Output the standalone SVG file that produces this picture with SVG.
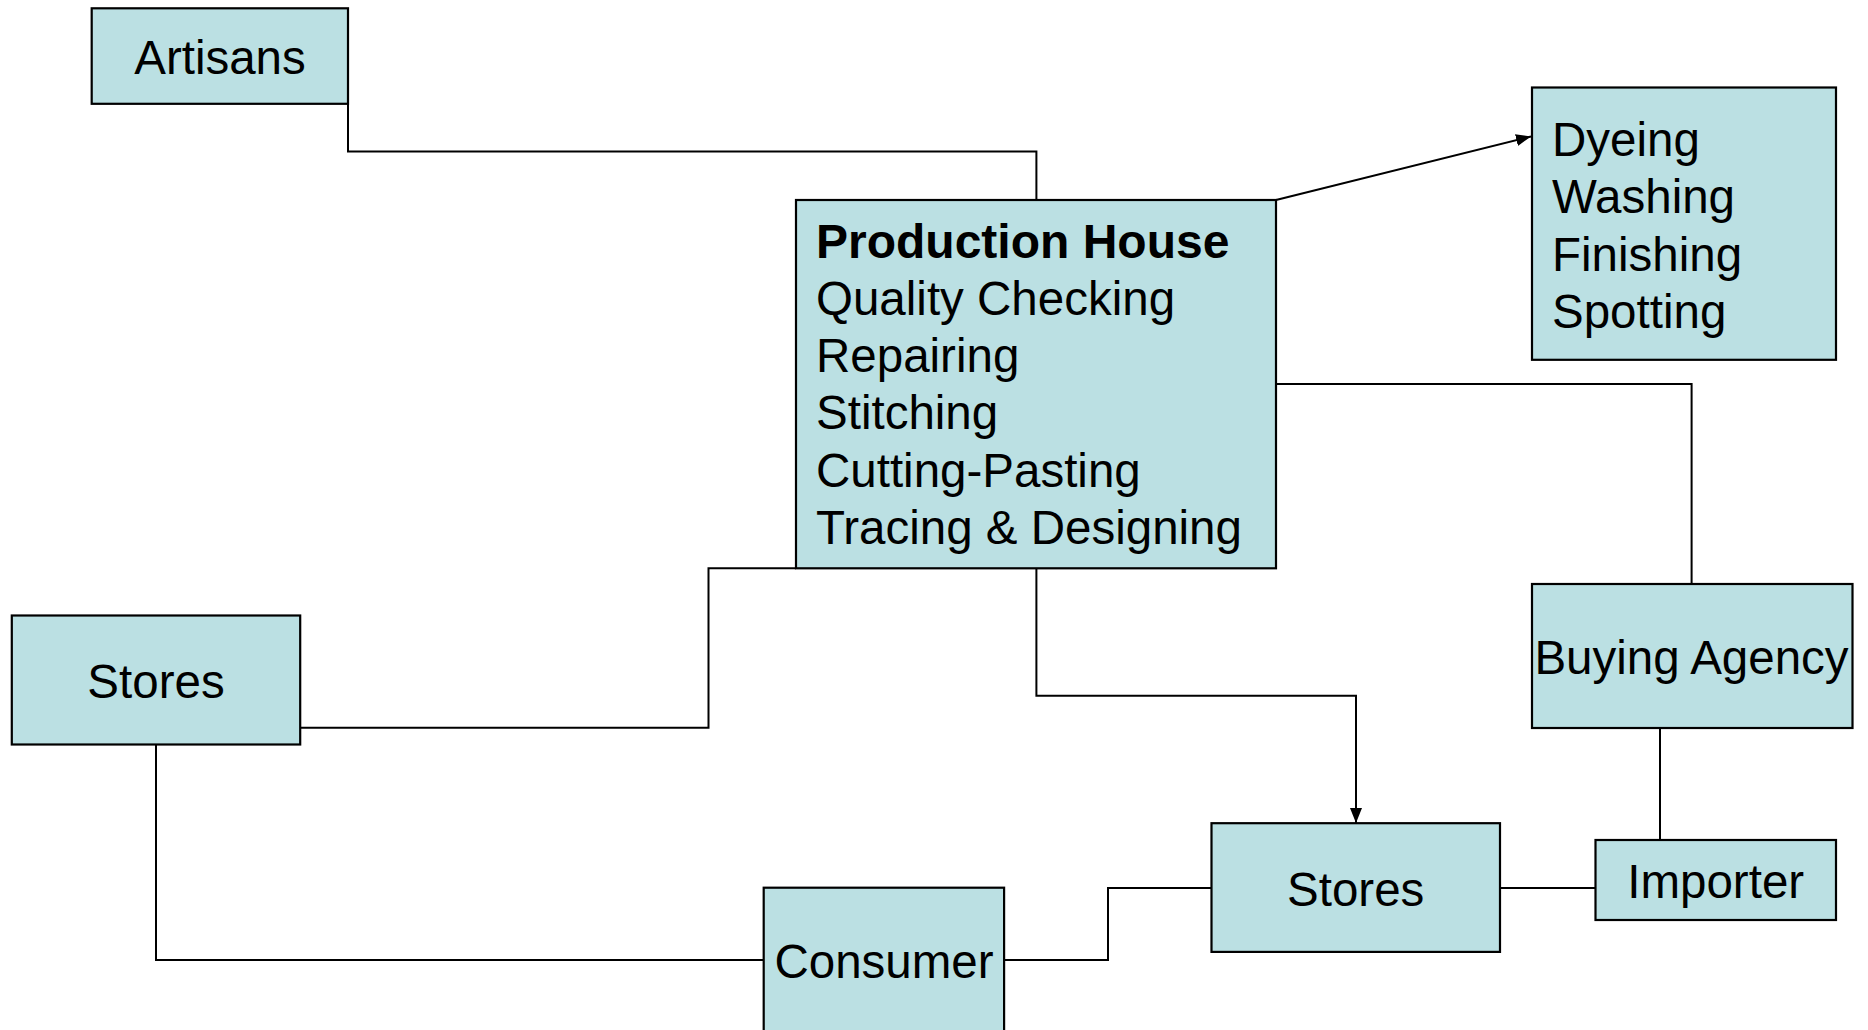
<svg xmlns="http://www.w3.org/2000/svg" width="1868" height="1030" viewBox="0 0 1868 1030">
<defs>
<marker id="arr" viewBox="0 0 15 12" refX="15" refY="6" markerWidth="15" markerHeight="12" markerUnits="userSpaceOnUse" orient="auto">
<path d="M0,0 L15,6 L0,12 Z" fill="#000"/>
</marker>
<style>
.box{fill:#BBE0E3;stroke:#000;stroke-width:2.2}
.ln{fill:none;stroke:#000;stroke-width:2}
.t{font-family:"Liberation Sans",Arial,sans-serif;font-size:47.5px;fill:#000}
.c{text-anchor:middle}
.b{font-weight:bold;font-size:48px}
</style>
</defs>
<rect width="1868" height="1030" fill="#fff"/>
<g id="connectors">
<path class="ln" d="M348,104 V151.5 H1036.4 V200"/>
<path class="ln" d="M1276,200 L1531,136.5" marker-end="url(#arr)"/>
<path class="ln" d="M1276,384 H1691.6 V584"/>
<path class="ln" d="M1036.4,568 V695.7 H1356 V823" marker-end="url(#arr)"/>
<path class="ln" d="M300,727.8 H708.5 V568.3 H796"/>
<path class="ln" d="M156,744.5 V960 H763.7"/>
<path class="ln" d="M1004,960 H1108 V888 H1211.5"/>
<path class="ln" d="M1500,888 H1595.5"/>
<path class="ln" d="M1660,728 V840"/>
</g>
<g id="artisans">
<rect class="box" x="91.7" y="8.3" width="256.3" height="95.5"/>
<text class="t c" x="220" y="73.5">Artisans</text>
</g>
<g id="production-house">
<rect class="box" x="796" y="200" width="480" height="368.3"/>
<text class="t b" x="816" y="257.5">Production House</text>
<text class="t" x="816" y="314.8">Quality Checking</text>
<text class="t" x="816" y="372.1">Repairing</text>
<text class="t" x="816" y="429.4">Stitching</text>
<text class="t" x="816" y="486.7">Cutting-Pasting</text>
<text class="t" x="816" y="544">Tracing &amp; Designing</text>
</g>
<g id="dyeing">
<rect class="box" x="1532" y="87.5" width="304" height="272.3"/>
<text class="t" x="1552" y="156">Dyeing</text>
<text class="t" x="1552" y="213.3">Washing</text>
<text class="t" x="1552" y="270.6">Finishing</text>
<text class="t" x="1552" y="327.9">Spotting</text>
</g>
<g id="buying-agency">
<rect class="box" x="1532" y="584" width="320.5" height="144"/>
<text class="t c" x="1691.5" y="673.8">Buying Agency</text>
</g>
<g id="importer">
<rect class="box" x="1595.5" y="840" width="240.5" height="80"/>
<text class="t c" x="1715.7" y="898.3">Importer</text>
</g>
<g id="stores-right">
<rect class="box" x="1211.5" y="823.2" width="288.5" height="128.7"/>
<text class="t c" x="1355.7" y="905.7">Stores</text>
</g>
<g id="stores-left">
<rect class="box" x="11.8" y="615.5" width="288.4" height="129"/>
<text class="t c" x="156" y="697.7">Stores</text>
</g>
<g id="consumer">
<rect class="box" x="763.7" y="887.7" width="240.4" height="160"/>
<text class="t c" x="884" y="977.5">Consumer</text>
</g>
</svg>
